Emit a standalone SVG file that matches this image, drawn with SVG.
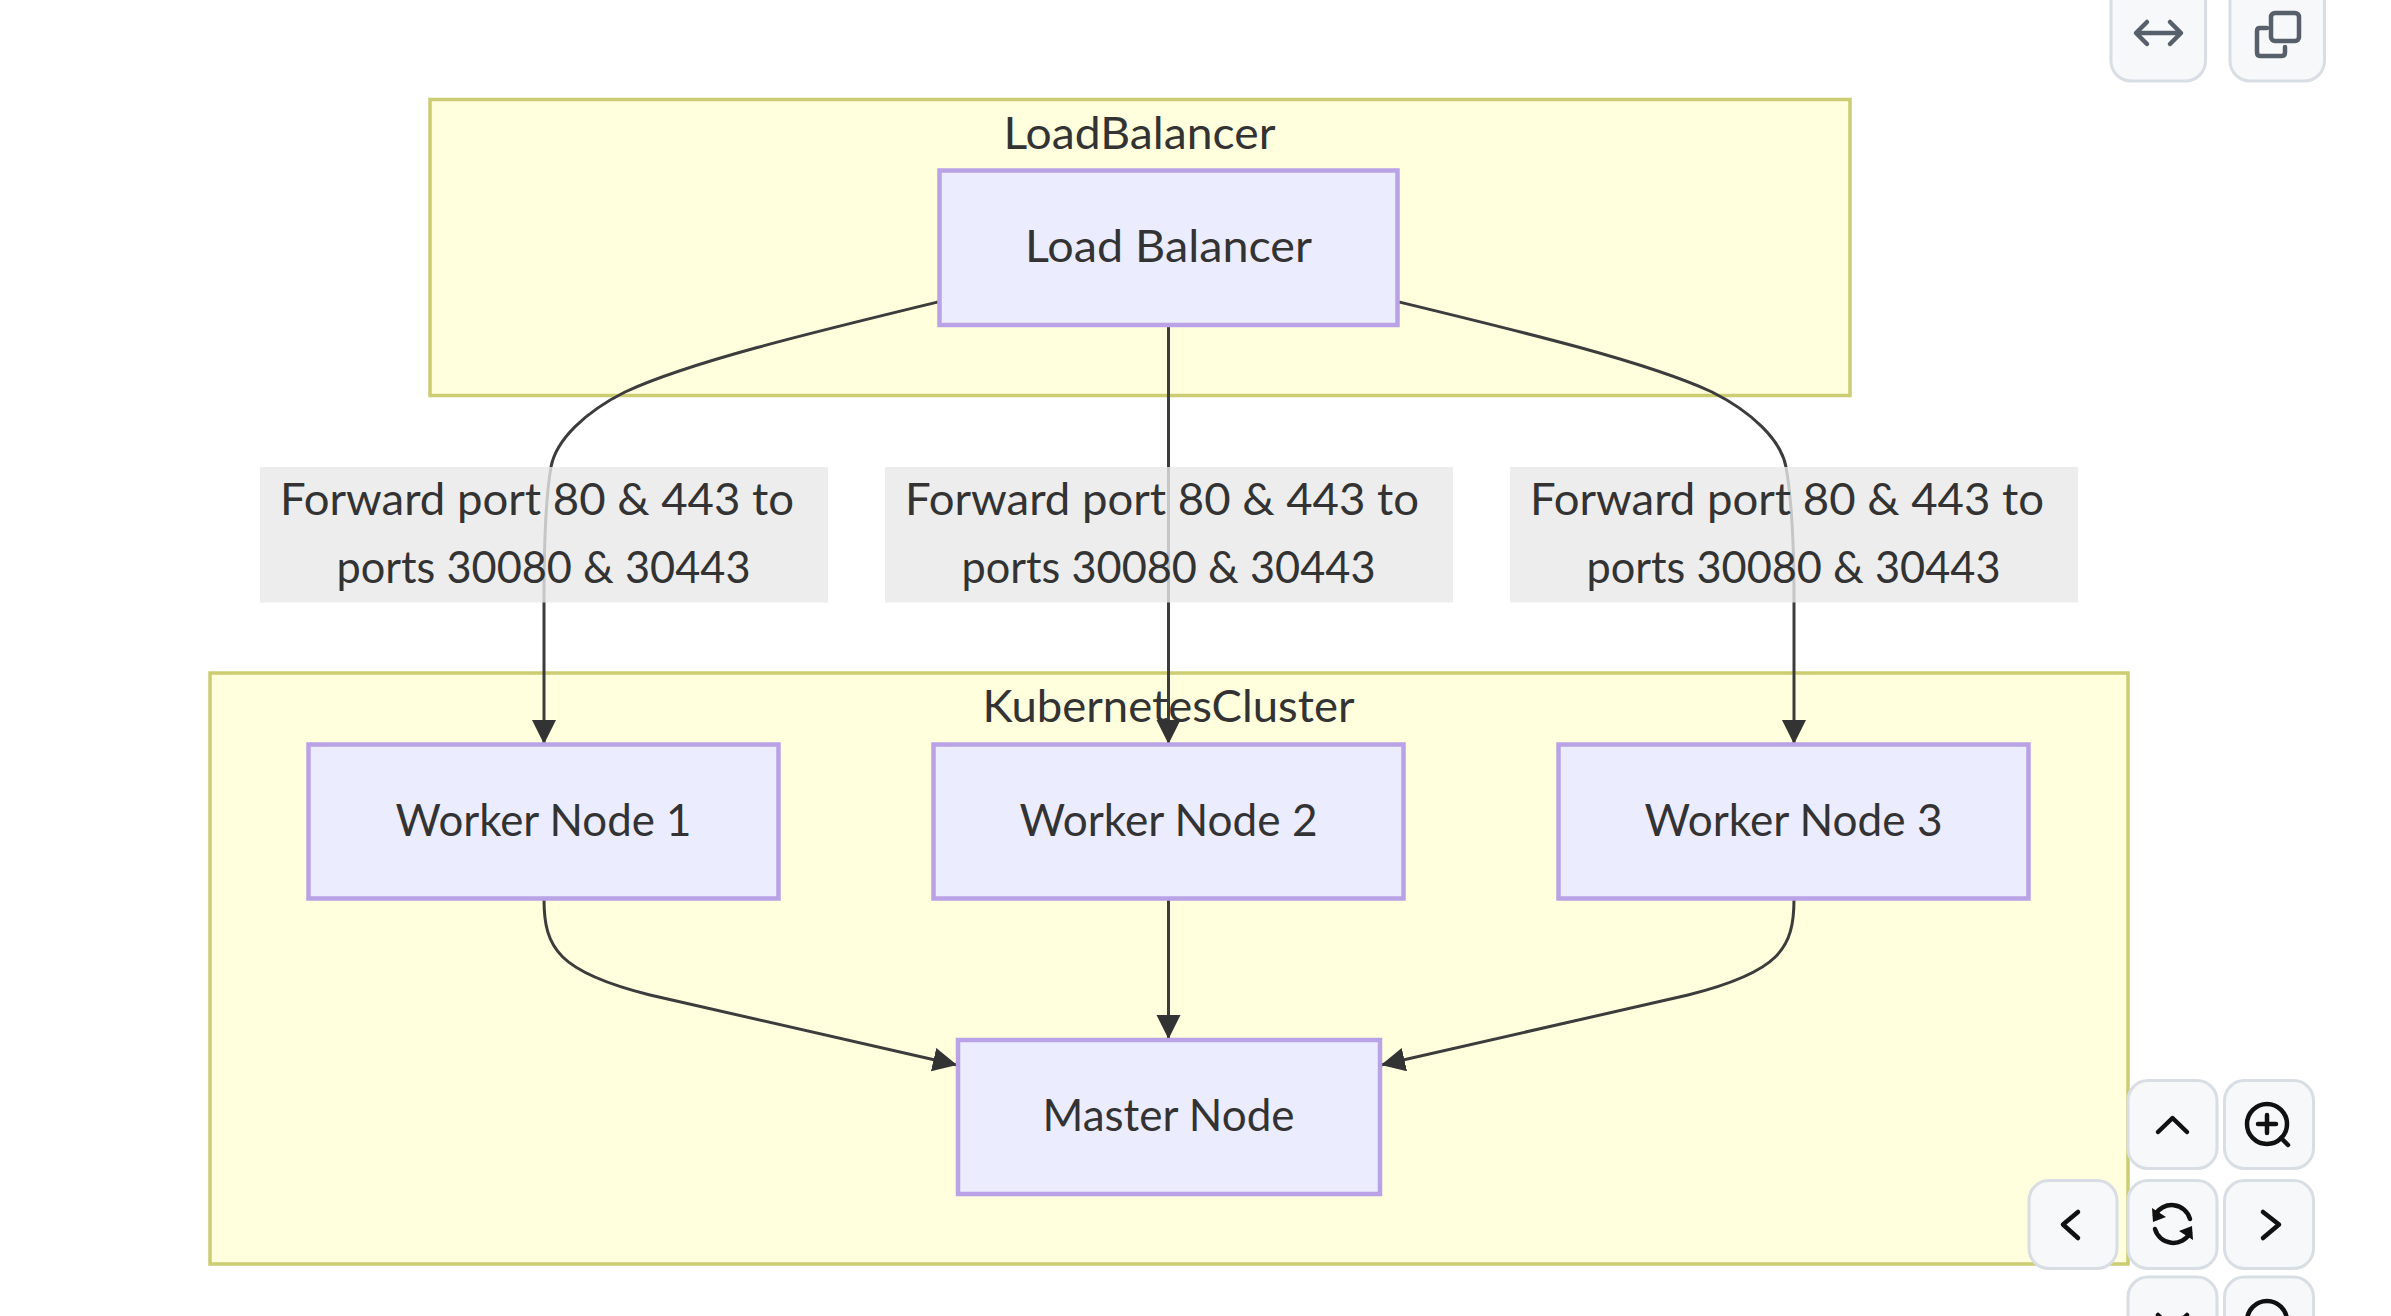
<svg xmlns="http://www.w3.org/2000/svg" width="2391" height="1316" viewBox="0 0 2391 1316">
<style>
text{font-family:"Lato","Noto Sans","Liberation Sans",sans-serif;font-size:44px;fill:#333;text-anchor:middle}
.cluster{fill:#ffffde;stroke:#cccc72;stroke-width:3.500}
.node{fill:#ececff;stroke:#b9a2e6;stroke-width:4.500}
.edge{fill:none;stroke:#3c3c3c;stroke-width:3}
.elabel{fill:#e8e8e8;fill-opacity:.8}
.btn{fill:#f6f8fa;stroke:#d8dee4;stroke-width:3}
.ic{fill:none;stroke:#57606a;stroke-width:4.5;stroke-linecap:round;stroke-linejoin:round}
.ik{fill:none;stroke:#111;stroke-width:4.5;stroke-linecap:round;stroke-linejoin:round}
</style>
<defs>
<marker id="arrow" markerUnits="userSpaceOnUse" markerWidth="26" markerHeight="26" refX="24" refY="12" orient="auto">
<path d="M0,0L24,12L0,24z" fill="#333"/>
</marker>
</defs>
<rect width="2391" height="1316" fill="#fff"/>
<g id="LoadBalancerCluster">
<rect class="cluster" x="430" y="99.500" width="1420" height="296"/>
<text x="1139.500" y="149" textLength="272" lengthAdjust="spacingAndGlyphs">LoadBalancer</text>
</g>
<g id="KubernetesCluster">
<rect class="cluster" x="210" y="673" width="1918" height="591"/>
<text x="1168.500" y="722" textLength="372" lengthAdjust="spacingAndGlyphs">KubernetesCluster</text>
</g>
<g id="connectors">
<path class="edge" d="M938,302C810,333 690,362 625,392C585,412 556,440 551,467C546,495 544,530 544,600L544,744" marker-end="url(#arrow)"/>
<path class="edge" d="M1168.500,325L1168.500,744" marker-end="url(#arrow)"/>
<path class="edge" d="M1399,302C1527,333 1647,362 1712,392C1752,412 1781,440 1786,467C1791,495 1794,530 1794,600L1794,744" marker-end="url(#arrow)"/>
<path class="edge" d="M544,899C544,948 558,972 650,995L957,1065" marker-end="url(#arrow)"/>
<path class="edge" d="M1168.500,899L1168.500,1039" marker-end="url(#arrow)"/>
<path class="edge" d="M1794,899C1794,948 1780,972 1688,995L1381,1065" marker-end="url(#arrow)"/>
</g>
<g id="LB"><rect class="node" x="939.500" y="170.500" width="458" height="154.500"/><text x="1168.500" y="262" textLength="287" lengthAdjust="spacingAndGlyphs">Load Balancer</text></g>
<g id="W1"><rect class="node" x="308.500" y="744.500" width="470" height="154"/><text x="543.500" y="835.500" textLength="296" lengthAdjust="spacingAndGlyphs">Worker Node 1</text></g>
<g id="W2"><rect class="node" x="933.500" y="744.500" width="470" height="154"/><text x="1168.500" y="835.500" textLength="298" lengthAdjust="spacingAndGlyphs">Worker Node 2</text></g>
<g id="W3"><rect class="node" x="1558.500" y="744.500" width="470" height="154"/><text x="1793.500" y="835.500" textLength="298" lengthAdjust="spacingAndGlyphs">Worker Node 3</text></g>
<g id="Master"><rect class="node" x="958" y="1040" width="422" height="154"/><text x="1168.500" y="1131" textLength="252" lengthAdjust="spacingAndGlyphs">Master Node</text></g>
<g id="label1"><rect class="elabel" x="260" y="467" width="568" height="135.500"/><text x="537" y="514.500" textLength="514" lengthAdjust="spacingAndGlyphs">Forward port 80 &amp; 443 to</text><text x="543.500" y="583" textLength="414" lengthAdjust="spacingAndGlyphs">ports 30080 &amp; 30443</text></g>
<g id="label2"><rect class="elabel" x="885" y="467" width="568" height="135.500"/><text x="1162" y="514.500" textLength="514" lengthAdjust="spacingAndGlyphs">Forward port 80 &amp; 443 to</text><text x="1168.500" y="583" textLength="414" lengthAdjust="spacingAndGlyphs">ports 30080 &amp; 30443</text></g>
<g id="label3"><rect class="elabel" x="1510" y="467" width="568" height="135.500"/><text x="1787" y="514.500" textLength="514" lengthAdjust="spacingAndGlyphs">Forward port 80 &amp; 443 to</text><text x="1793.500" y="583" textLength="414" lengthAdjust="spacingAndGlyphs">ports 30080 &amp; 30443</text></g>
<g id="btn-expand"><rect class="btn" x="2111" y="-30" width="94.500" height="111" rx="20"/><path class="ic" d="M2137,33H2180M2147,22L2136,33L2147,44M2170,22L2181,33L2170,44"/></g>
<g id="btn-copy"><rect class="btn" x="2230" y="-30" width="94.500" height="111" rx="20"/><rect class="ic" x="2271" y="13" width="28" height="28" rx="4"/><path class="ic" d="M2267,28H2260Q2257,28 2257,31V52Q2257,56 2260,56H2282Q2285,56 2285,52V47"/></g>
<g id="btn-up"><rect class="btn" x="2128" y="1080.500" width="89" height="88" rx="20"/><path class="ik" d="M2158,1132L2172.500,1118L2187,1132"/></g>
<g id="btn-zoomin"><rect class="btn" x="2224.500" y="1080.500" width="89" height="88" rx="20"/><circle class="ik" cx="2267" cy="1124" r="20"/><path class="ik" d="M2267,1115V1133M2258,1124H2276M2281,1138L2288,1145"/></g>
<g id="btn-left"><rect class="btn" x="2029" y="1180.500" width="88" height="88" rx="20"/><path class="ik" d="M2078,1212L2063,1224.500L2078,1238"/></g>
<g id="btn-reset"><rect class="btn" x="2128" y="1180.500" width="89" height="88" rx="20"/><path class="ik" d="M2155,1215A19,19 0 0 1 2190,1219M2190,1233A19,19 0 0 1 2155,1229"/><path d="M2152,1208L2153,1222L2166,1217zM2193,1240L2192,1226L2179,1231z" fill="#111"/></g>
<g id="btn-right"><rect class="btn" x="2224.500" y="1180.500" width="89" height="88" rx="20"/><path class="ik" d="M2263,1212L2279,1224.500L2263,1238"/></g>
<g id="btn-down"><rect class="btn" x="2128" y="1277" width="89" height="88" rx="20"/><path class="ik" d="M2158,1315L2172.500,1329L2187,1315"/></g>
<g id="btn-zoomout"><rect class="btn" x="2224.500" y="1277" width="89" height="88" rx="20"/><circle class="ik" cx="2267" cy="1321" r="20"/></g>
</svg>
